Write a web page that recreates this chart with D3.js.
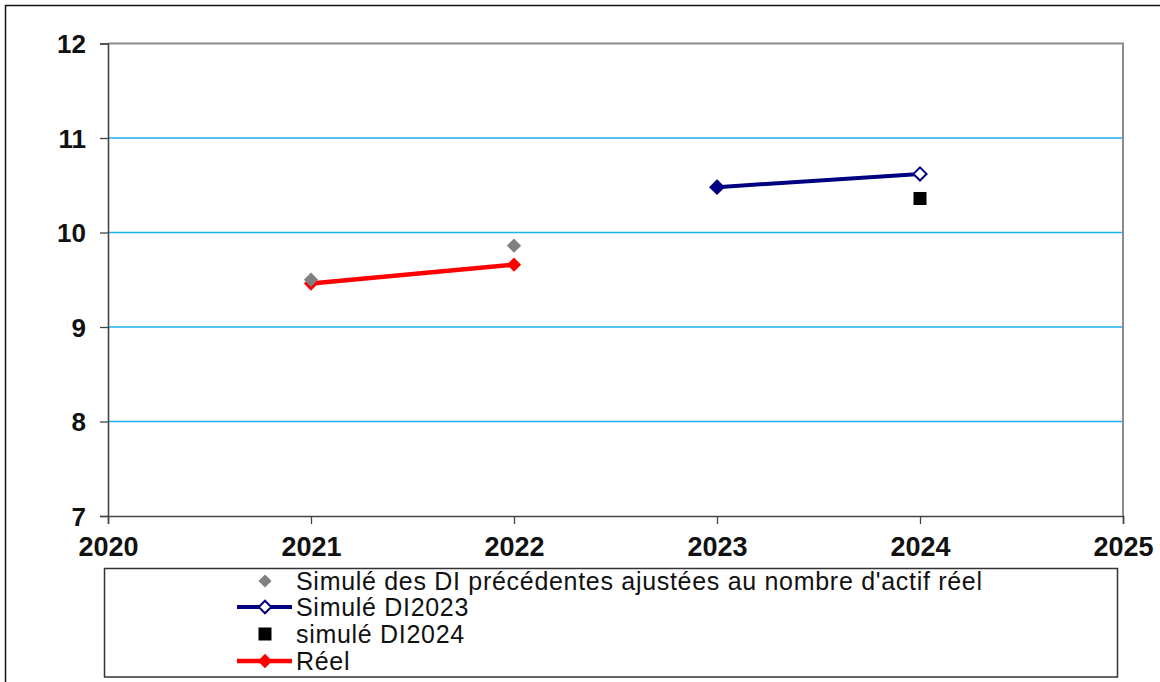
<!DOCTYPE html>
<html>
<head>
<meta charset="utf-8">
<script src="https://cdn.jsdelivr.net/npm/d3@7"></script>
<style>
  body { margin: 0; background: #fff; }
  svg { display: block; font-family: "Liberation Sans", Arial, sans-serif; }
</style>
</head>
<body>
<svg></svg>
<script>
const years = [2020, 2021, 2022, 2023, 2024, 2025];
const yTicks = [7, 8, 9, 10, 11, 12];

const simPrevYears = [2021, 2022];
const simPrevValues = [9.50, 9.86];
const di2023Years = [2023, 2024];
const di2023Values = [10.48, 10.62];
const di2024Years = [2024];
const di2024Values = [10.36];
const reelYears = [2021, 2022];
const reelValues = [9.46, 9.66];

const legendLabels = [
  "Simulé des DI précédentes ajustées au nombre d'actif réel",
  'Simulé DI2023',
  'simulé DI2024',
  'Réel'
];

const [svgWidth, svgHeight] = [1160, 682];
const svg = d3.select('svg')
  .attr('width', svgWidth)
  .attr('height', svgHeight);

// outer frame
svg.append('rect')
  .attr('x', 5.5).attr('y', 5.5)
  .attr('width', svgWidth + 10).attr('height', svgHeight + 10)
  .attr('fill', 'none')
  .attr('stroke', '#111')
  .attr('stroke-width', 1.5);

const plot = { left: 108, top: 43.5, right: 1123, bottom: 516 };

const x = d3.scaleLinear()
  .domain([2020, 2025])
  .range([plot.left, plot.right]);
const y = d3.scaleLinear()
  .domain([7, 12])
  .range([plot.bottom, plot.top]);

// gridlines
svg.append('g')
  .selectAll('line')
  .data(yTicks.filter(d => d > 7 && d < 12))
  .join('line')
  .attr('x1', plot.left).attr('x2', plot.right)
  .attr('y1', d => y(d)).attr('y2', d => y(d))
  .attr('stroke', '#1ab2ee')
  .attr('stroke-width', 1.5);

// plot border top/right
svg.append('path')
  .attr('d', `M${plot.left},${plot.top}H${plot.right}V${plot.bottom}`)
  .attr('fill', 'none')
  .attr('stroke', '#8c8c8c')
  .attr('stroke-width', 2);

// axes
const yAxis = d3.axisLeft(y)
  .tickValues(yTicks)
  .tickSize(8)
  .tickPadding(14)
  .tickFormat(d3.format('d'));
const yg = svg.append('g')
  .attr('transform', `translate(${plot.left},0)`)
  .call(yAxis);

const xAxis = d3.axisBottom(x)
  .tickValues(years)
  .tickSize(8)
  .tickPadding(13)
  .tickFormat(d3.format('d'));
const xg = svg.append('g')
  .attr('transform', `translate(0,${plot.bottom})`)
  .call(xAxis);

[yg, xg].forEach(g => {
  g.select('.domain').attr('stroke', '#444').attr('stroke-width', 1.6);
  g.selectAll('.tick line').attr('stroke', '#444').attr('stroke-width', 1.3);
  g.selectAll('.tick text')
    .attr('fill', '#111')
    .attr('font-weight', 'bold')
    .attr('font-family', '"Liberation Sans", Arial, sans-serif');
});
yg.selectAll('.tick text').attr('font-size', 26).attr('dy', '0.36em');
xg.selectAll('.tick text').attr('font-size', 27);

const diamond = d3.symbol().type(d3.symbolDiamond2);
const line = d3.line().x(d => x(d[0])).y(d => y(d[1]));

// Réel
const reel = d3.zip(reelYears, reelValues);
svg.append('path')
  .attr('d', line(reel))
  .attr('fill', 'none')
  .attr('stroke', '#ff0000')
  .attr('stroke-width', 4.5);
svg.append('g')
  .selectAll('path')
  .data(reel)
  .join('path')
  .attr('transform', d => `translate(${x(d[0])},${y(d[1])})`)
  .attr('d', diamond.size(130))
  .attr('fill', '#ff0000');

// Simulé des DI précédentes
svg.append('g')
  .selectAll('path')
  .data(d3.zip(simPrevYears, simPrevValues))
  .join('path')
  .attr('transform', d => `translate(${x(d[0])},${y(d[1])})`)
  .attr('d', diamond.size(130))
  .attr('fill', '#808080');

// Simulé DI2023
const di23 = d3.zip(di2023Years, di2023Values);
svg.append('path')
  .attr('d', line(di23))
  .attr('fill', 'none')
  .attr('stroke', '#000080')
  .attr('stroke-width', 4);
svg.append('g')
  .selectAll('path')
  .data(di23)
  .join('path')
  .attr('transform', d => `translate(${x(d[0])},${y(d[1])})`)
  .attr('d', diamond.size(110))
  .attr('fill', (d, i) => i === 0 ? '#000080' : '#fff')
  .attr('stroke', '#000080')
  .attr('stroke-width', 2);

// simulé DI2024
svg.append('g')
  .selectAll('rect')
  .data(d3.zip(di2024Years, di2024Values))
  .join('rect')
  .attr('x', d => x(d[0]) - 6.5)
  .attr('y', d => y(d[1]) - 6.5)
  .attr('width', 13).attr('height', 13)
  .attr('fill', '#000');

// legend
const legend = svg.append('g');
legend.append('rect')
  .attr('x', 104.5).attr('y', 568.5)
  .attr('width', 1013).attr('height', 108.5)
  .attr('fill', '#fff')
  .attr('stroke', '#333')
  .attr('stroke-width', 1.5);

const rowY = [581, 607, 634, 661];
const lx = 265;
const items = legend.selectAll('g.item')
  .data(legendLabels)
  .join('g')
  .classed('item', true)
  .attr('transform', (d, i) => `translate(0,${rowY[i]})`);

items.append('text')
  .attr('x', 296)
  .attr('dy', '0.35em')
  .attr('font-size', 25)
  .attr('letter-spacing', 0.7)
  .attr('fill', '#111')
  .text(d => d);

// row 0: gray diamond
legend.append('path')
  .attr('transform', `translate(${lx},${rowY[0]})`)
  .attr('d', diamond.size(110))
  .attr('fill', '#808080');
// row 1: navy line + hollow diamond
legend.append('line')
  .attr('x1', 237).attr('x2', 292)
  .attr('y1', rowY[1]).attr('y2', rowY[1])
  .attr('stroke', '#000080').attr('stroke-width', 4);
legend.append('path')
  .attr('transform', `translate(${lx},${rowY[1]})`)
  .attr('d', diamond.size(100))
  .attr('fill', '#fff')
  .attr('stroke', '#000080').attr('stroke-width', 2);
// row 2: black square
legend.append('rect')
  .attr('x', lx - 6.5).attr('y', rowY[2] - 6.5)
  .attr('width', 13).attr('height', 13)
  .attr('fill', '#000');
// row 3: red line + diamond
legend.append('line')
  .attr('x1', 237).attr('x2', 292)
  .attr('y1', rowY[3]).attr('y2', rowY[3])
  .attr('stroke', '#ff0000').attr('stroke-width', 4.5);
legend.append('path')
  .attr('transform', `translate(${lx},${rowY[3]})`)
  .attr('d', diamond.size(130))
  .attr('fill', '#ff0000');
</script>
</body>
</html>
